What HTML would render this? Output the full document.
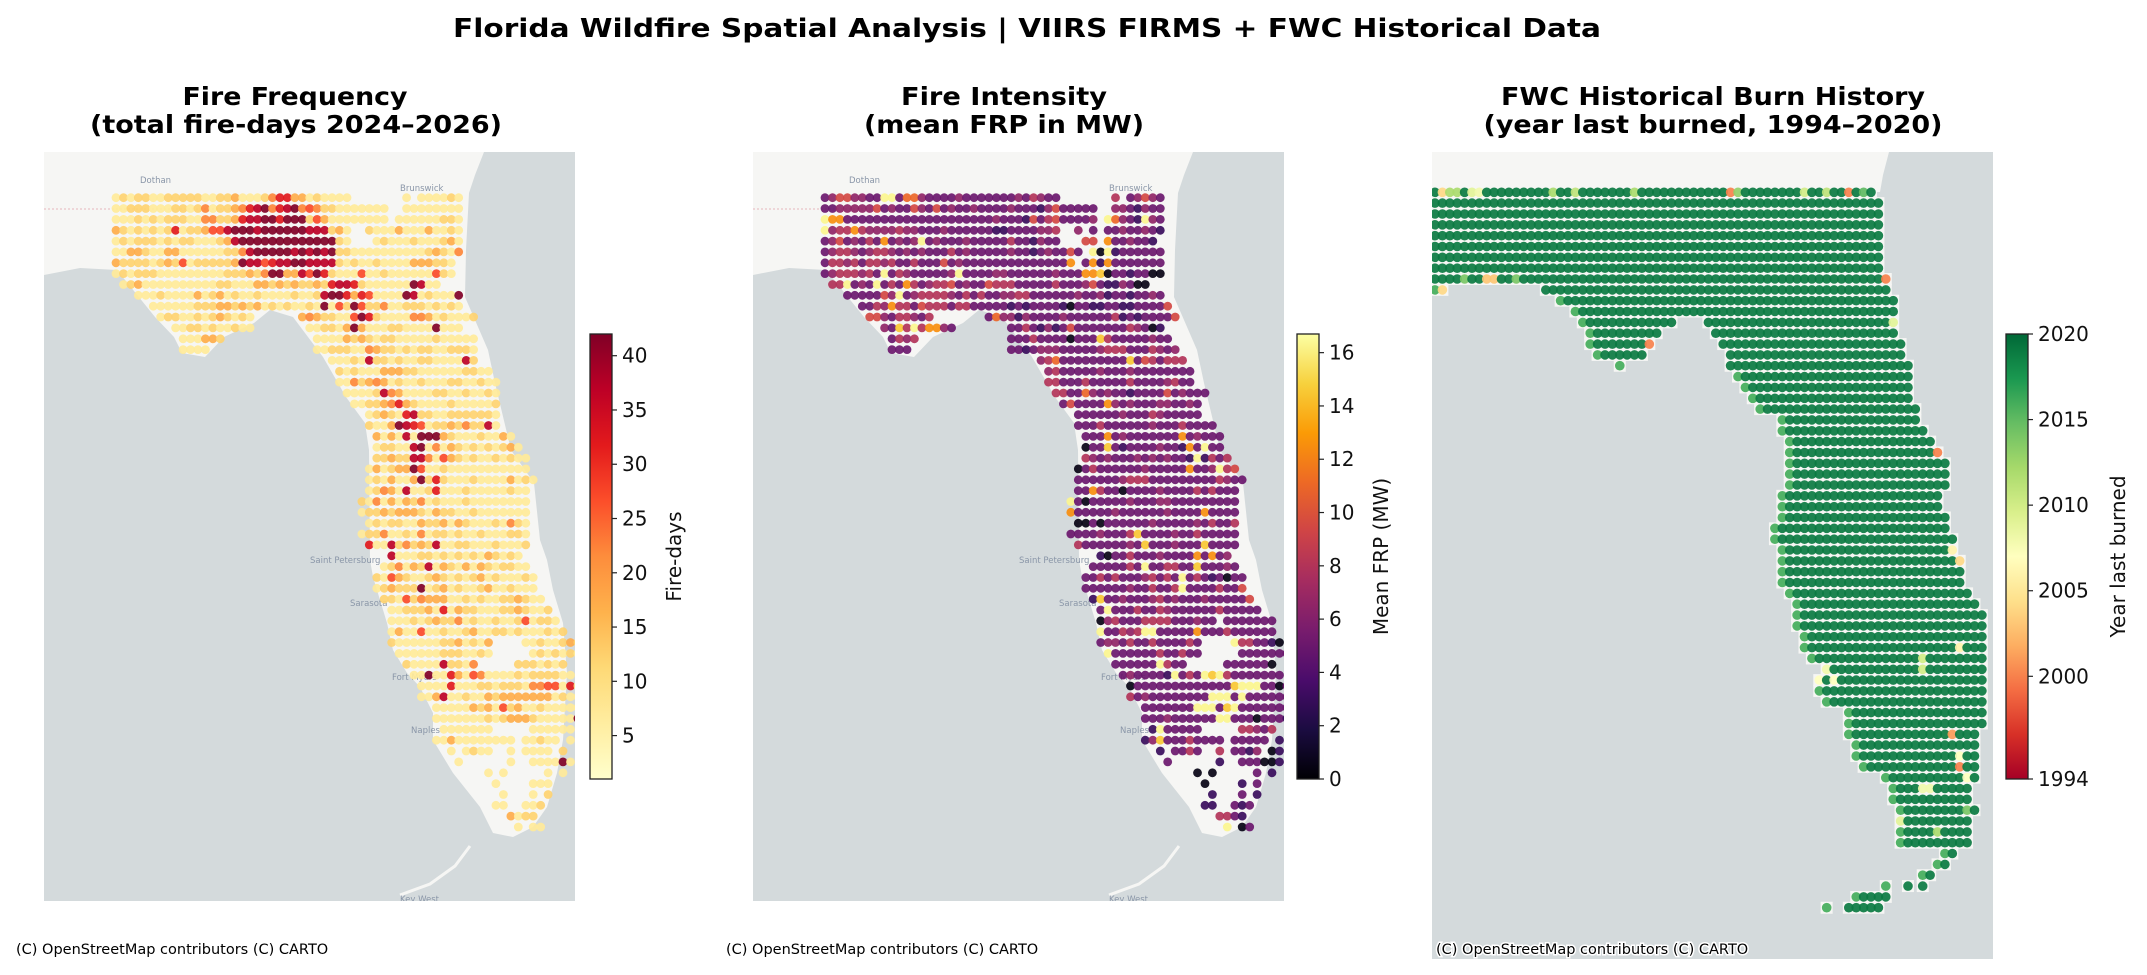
<!DOCTYPE html>
<html><head><meta charset="utf-8"><title>Florida Wildfire Spatial Analysis</title>
<style>
html,body{margin:0;padding:0;background:#fff;}
svg{display:block;font-family:"DejaVu Sans","Liberation Sans",sans-serif;}
</style></head>
<body>
<svg id="fig" width="2147" height="975" viewBox="0 0 2147 975" xmlns="http://www.w3.org/2000/svg">
<defs>
<linearGradient id="gYlOrRd" x1="0" y1="1" x2="0" y2="0"></linearGradient>
<linearGradient id="gInferno" x1="0" y1="1" x2="0" y2="0"></linearGradient>
<linearGradient id="gRdYlGn" x1="0" y1="1" x2="0" y2="0"></linearGradient>
<clipPath id="c1"><rect x="44" y="152" width="531" height="749"/></clipPath>
<clipPath id="c2"><rect x="753" y="152" width="531" height="749"/></clipPath>
<clipPath id="c3"><rect x="1432" y="152" width="561" height="807"/></clipPath>
</defs>
<text x="1027" y="37" text-anchor="middle" font-size="26" font-weight="bold" textLength="1148" lengthAdjust="spacingAndGlyphs">Florida Wildfire Spatial Analysis  |  VIIRS FIRMS + FWC Historical Data</text>

<text x="295" y="105" text-anchor="middle" font-size="25" font-weight="bold" textLength="225" lengthAdjust="spacingAndGlyphs">Fire Frequency</text>
<text x="296" y="133" text-anchor="middle" font-size="25" font-weight="bold" textLength="412" lengthAdjust="spacingAndGlyphs">(total fire-days 2024–2026)</text>
<text x="1004" y="105" text-anchor="middle" font-size="25" font-weight="bold" textLength="206" lengthAdjust="spacingAndGlyphs">Fire Intensity</text>
<text x="1004" y="133" text-anchor="middle" font-size="25" font-weight="bold" textLength="280" lengthAdjust="spacingAndGlyphs">(mean FRP in MW)</text>
<text x="1713" y="105" text-anchor="middle" font-size="25" font-weight="bold" textLength="424" lengthAdjust="spacingAndGlyphs">FWC Historical Burn History</text>
<text x="1713" y="133" text-anchor="middle" font-size="25" font-weight="bold" textLength="459" lengthAdjust="spacingAndGlyphs">(year last burned, 1994–2020)</text>

<g id="p1" clip-path="url(#c1)"></g>
<g id="p2" clip-path="url(#c2)"></g>
<g id="p3" clip-path="url(#c3)"></g>
<g id="cbars"></g>

<text x="16" y="954" font-size="14.5">(C) OpenStreetMap contributors (C) CARTO</text>
<text x="726" y="954" font-size="14.5">(C) OpenStreetMap contributors (C) CARTO</text>
<text x="1436" y="954" font-size="14.5" stroke="#fff" stroke-width="3" paint-order="stroke">(C) OpenStreetMap contributors (C) CARTO</text>
</svg>
<script>
// ---------- data ----------
const fireDayLevels = [3,7,12,17,22,27,32,37,42];
const freqRows = [
[0,"12122112222211223111246633121111.......1.111121"],
[0,"1122211122124122346784678454221111111..11111111"],
[0,"1112121222114422367788688825311111111.111111221"],
[0,"32121212612235578887888888777231..2111311131121"],
[0,"12122212122111237888888888888821...121112111231"],
[0,"11332113311111122478888878787822111111111123214"],
[0,"3222212325122222387756778877772121121111333221"],
[0,"1212221111111112223248833758621115112111111521"],
[1,"1231111111111221113323232232677621111118711"],
[3,"11121111312312112111121127886365111187121118"],
[5,"111111222332323121211218152852241122212121"],
[6,"1221121232121......343221158621111443121112"],
[8,"11221211211.......112213831112211118111"],
[9,"111332............1111323212211111211111"],
[9,"1111..............1122211432212122112221"],
[29,"11121722121122111172"],
[30,"212111333221111112211"],
[30,"1142343121121112211211"],
[31,"111127431111221121121"],
[32,"11223463211112111112"],
[34,"123216722112222221"],
[34,"211387651223242271"],
[35,"3131718883211121131"],
[35,"12211781413212121231"],
[35,"223227741532121121211"],
[34,"1312338511211111111111"],
[34,"12131138262111211113121"],
[34,"1243171126111211111211"],
[33,"21413132412111211111111"],
[33,"12232333213221121111111"],
[34,"1212211322313211121421"],
[33,"12241121412212112111221"],
[34,"6117242327112211121112"],
[37,"711122121212132121"],
[36,"12413271321313212211"],
[35,"2153211232121231211121"],
[35,"1232228123121123112111"],
[36,"2215243331121211223211"],
[37,"1122231613221112232112"],
[37,"11121232241211211251221"],
[37,"131151121123112212111212"],
[37,"21111112231213....11211232"],
[38,"1111112221121.....1212121"],
[39,"2111172214.....2221212"],
[40,"1181163154111121222211"],
[41,"1111611122122214455161"],
[41,"1137112113233333331211"],
[43,"11111323152311211111"],
[43,"11111112123332111118"],
[44,"1111111.....111111"],
[43,"11311111111.11211.1"],
[45,"1.1211..1.1111.2"],
[46,"1......1..111181"],
[49,".1.1.....1.1"],
[51,"1....111"],
[52,"1...1.2"],
[51,"11..112"],
[53,"3122"],
[54,"1.11"]
];
const frpLevels = [0.5,3,5,6.5,8,9.5,11,12.5,14.5,16.3];
const frpRows = [
[0,"23553322992663222232222222324322.......4.23532"],
[0,"2233333523225325232232222322213522222..3321322"],
[0,"9772222222222222222222232221524522223.96321932"],
[0,"93447433334332223222222112222334..3.2.22322321"],
[0,"23523242723239232223222224221322...55.7223221"],
[0,"23443234432323222423222223221232252.9091222222"],
[0,"2443424434224222523222222222222227.27172222222"],
[0,"2344434292432222239222233222222322277802212200"],
[1,"4492329242742344523225444222224222352113200"],
[3,"2222253923444432424223344222222322312212232"],
[5,"224374425444244222221212222102211221122225"],
[6,"553244324.......26331322223222222412122225"],
[8,"3284947732.......224213125222222243201"],
[9,"2434............2224222202228422222322"],
[9,"222.............22123332222234442224323"],
[29,"34622222222282542444"],
[30,"34222223222322222222"],
[30,"44222422222422223422"],
[31,"442263232212222523222"],
[32,"2522227323222332232"],
[34,"22222232224322222"],
[34,"2224222222322242222"],
[35,"2227232222222723222"],
[35,"0228212222322172922"],
[35,"43232223232322191424"],
[34,"0242222223222227223945"],
[34,"22222234442222222224322"],
[34,"2274220222232222424222"],
[33,"92022222322233222222222"],
[33,"72222232222223222272222"],
[34,"0020222222322222324224"],
[33,"22223222482222322422222"],
[34,"4222222328222322282222"],
[37,"102242223222272723"],
[36,"22222429224422822232"],
[35,"2242422234242924212022"],
[35,"2222223224224922224225"],
[36,"1822322234232223222225"],
[37,"2922242243222222422222"],
[37,"0342224444222322.2222222"],
[37,"922434992222272224222222"],
[37,"23324224222242....9442210"],
[38,"9222222422422.....2222222"],
[39,"2222229422.....2222220"],
[40,"2322221924298942222222"],
[41,"0222222222222289992202"],
[41,"4232222222299929222222"],
[43,"22222229992892222222"],
[43,"22232222229922202221"],
[44,"1922222.....44324"],
[43,"13822242222.22222.1"],
[45,"1.2242..4.2213.01"],
[46,"2......1..222001"],
[49,".0.0.....2.1"],
[51,"0....1.2"],
[52,"1...2.1"],
[51,"11..212"],
[53,"4421"],
[54,"9.02"]
];
const burnSegments = [
[[0,59]],[[0,60]],[[0,60]],[[0,60]],[[0,60]],[[0,60]],[[0,60]],[[0,60]],[[0,61]],
[[0,1],[15,61]],[[17,62]],[[19,62]],[[20,32],[37,62]],[[21,30],[38,62]],[[21,29],[39,63]],
[[22,28],[40,63]],[[25,25],[40,64]],[[41,64]],[[42,64]],[[43,64]],[[44,65]],[[47,65]],[[47,66]],
[[48,67]],[[48,68]],[[48,69]],[[48,69]],[[48,69]],[[47,68]],[[47,68]],[[47,69]],[[46,69]],[[46,70]],
[[47,70]],[[47,71]],[[47,71]],[[47,71]],[[48,72]],[[49,73]],[[49,74]],[[49,74]],[[50,74]],[[50,74]],
[[51,74]],[[53,74]],[[52,74]],[[52,74]],[[53,74]],[[56,74]],[[56,74]],[[56,73]],[[57,73]],[[57,73]],
[[58,73]],[[61,73]],[[62,72]],[[62,72]],[[63,73]],[[63,72]],[[63,72]],[[63,72]],[[69,70]],[[68,69]],
[[66,67]],[[61,61],[64,64],[66,66]],[[57,60],[61,61]],[[53,53],[56,60]]
];
const burnDefaultYear = 2019;
const burnEdgeYear = 2016;
const burnExceptions = [
[0,1,2004],[0,2,2012],[0,3,2012],[0,5,2009],[0,6,2008],[0,16,2012],[0,19,2011],[0,27,2012],[0,40,2000],[0,41,2013],[0,50,2010],[0,53,2011],[0,56,2000],[0,58,2015],
[8,4,2014],[8,7,2003],[8,8,2003],[8,11,2014],[8,61,2000],[9,1,2004],[12,62,2009],[14,29,2000],
[12,33,2015],[12,34,2015],[24,68,2000],[33,70,2006],[34,71,2004],[42,71,2006],[44,53,2008],[45,52,2007],
[45,54,2007],[43,66,2010],[44,66,2010],[50,70,2001],[52,71,2007],[53,71,2000],[54,72,2007],
[55,66,2008],[55,67,2008],[58,63,2009],[57,72,2014],[59,68,2012],[41,75,2010]
];
const freqTicks = [5,10,15,20,25,30,35,40];
const frpTicks = [0,2,4,6,8,10,12,14,16];
const yearTicks = [1994,2000,2005,2010,2015,2020];
const freqRange = [1,42], frpRange = [0,16.7], yearRange = [1994,2020];

// ---------- colormaps ----------
const CM = {
 YlOrRd:["#ffffcc","#ffeda0","#fed976","#feb24c","#fd8d3c","#fc4e2a","#e31a1c","#bd0026","#800026"],
 inferno:["#000004","#1b0c41","#4a0c6b","#781c6d","#a52c60","#cf4446","#ed6925","#fb9b06","#f7d13d","#fcffa4"],
 RdYlGn:["#a50026","#d73027","#f46d43","#fdae61","#fee08b","#ffffbf","#d9ef8b","#a6d96a","#66bd63","#1a9850","#006837"]
};
function hx(h){return [1,3,5].map(i=>parseInt(h.substr(i,2),16));}
function cmap(name,t){const s=CM[name];t=Math.max(0,Math.min(1,t));const p=t*(s.length-1);const i=Math.min(s.length-2,Math.floor(p));const f=p-i;const a=hx(s[i]),b=hx(s[i+1]);return "rgb("+a.map((v,k)=>Math.round(v+(b[k]-v)*f)).join(",")+")";}
const NS="http://www.w3.org/2000/svg";
function mk(tag,attrs,parent){const e=document.createElementNS(NS,tag);for(const k in attrs)e.setAttribute(k,attrs[k]);parent.appendChild(e);return e;}

// ---------- axes ----------
const g12 = {x0:116, dx:7.45, y0:197.7, dy:10.85};
const g3 = {x0:1435, dx:7.39, y0:192.3, dy:10.84};
function colX(g,c){return g.x0+c*g.dx;}
function rowY(g,r){return g.y0+r*g.dy;}

const landPoly = [[44,152],[484,152],[475,175],[469,193],[466,250],[465,297],[475,320],[488,350],[495,383],[511,450],[534,483],[540,540],[547,560],[553,590],[563,623],[567,673],[563,740],[557,773],[547,807],[533,827],[513,837],[493,833],[480,807],[453,773],[433,740],[433,713],[420,687],[407,673],[393,650],[387,623],[380,600],[373,577],[370,560],[369,450],[365,423],[346,397],[338,383],[323,357],[308,337],[293,317],[270,310],[254,323],[224,337],[205,357],[182,353],[174,337],[155,317],[117,270],[80,268],[44,275]];

function basemap(g,off,name){
 const bg=mk('rect',{x:44+off,y:152,width:531,height:749,fill:"#d4dadc"},g);
 
 
 const land=mk('polygon',{points:landPoly.map(p=>(p[0]+off)+","+p[1]).join(" "),fill:"#f6f6f4"},g);
 
 
 const keys=mk('polyline',{points:[[470,846],[455,866],[430,884],[400,895]].map(p=>(p[0]+off)+","+p[1]).join(" "),fill:"none",stroke:"#f6f6f4","stroke-width":3},g);
 
 
 mk('line',{x1:44+off,y1:209,x2:330+off,y2:209,stroke:"#e7b7bd","stroke-width":1,"stroke-dasharray":"2,2"},g);
 [["Dothan",140,183],["Brunswick",400,191],["Saint Petersburg",310,563],["Sarasota",350,606],["Fort Myers",392,680],["Naples",411,733],["Key West",400,902]].forEach(c=>{
  const t=mk('text',{x:c[1]+off,y:c[2],"font-size":8.5,fill:"#8a96a8"},g);t.textContent=c[0];
  
  
 });
}

function drawGrid(g,off,rows,levels,cm,range,name){
 rows.forEach((row,r)=>{
  const start=row[0],s=row[1];
  for(let i=0;i<s.length;i++){
   const ch=s[i]; if(ch==='.'||ch===' ')continue;
   const v=levels[+ch];
   const c=mk('circle',{cx:(colX(g12,start+i)+off).toFixed(1),cy:rowY(g12,r).toFixed(1),r:4.4,fill:cmap(cm,(v-range[0])/(range[1]-range[0])),"fill-opacity":0.92},g);
   
   
  }
 });
}

const p1=document.getElementById('p1'),p2=document.getElementById('p2'),p3=document.getElementById('p3');
basemap(p1,0,'frequency');
drawGrid(p1,0,freqRows,fireDayLevels,'YlOrRd',freqRange,'fire-frequency-cell');
basemap(p2,709,'intensity');
drawGrid(p2,709,frpRows,frpLevels,'inferno',frpRange,'fire-intensity-cell');

(function(){
 const bg=mk('rect',{x:1432,y:152,width:561,height:807,fill:"#d4dadc"},p3);
 
 
 const top=mk('polygon',{points:"1432,152 1889,152 1883,175 1880,192 1432,192",fill:"#f6f6f4"},p3);
 
 
 const exc={};burnExceptions.forEach(e=>exc[e[0]+"_"+e[1]]=e[2]);
 burnSegments.forEach((segs,r)=>{
  segs.forEach(sg=>{
   const l=mk('rect',{x:colX(g3,sg[0])-6,y:rowY(g3,r)-6,width:(sg[1]-sg[0])*g3.dx+12,height:12,fill:"#f6f6f4"},p3);
   
   
  });
 });
 burnSegments.forEach((segs,r)=>{
  segs.forEach((sg,si)=>{
   for(let c=sg[0];c<=sg[1];c++){
    let y=burnDefaultYear;
    if(si===0&&c===sg[0]&&r>8)y=burnEdgeYear;
    if(exc[r+"_"+c]!==undefined)y=exc[r+"_"+c];
    const d=mk('circle',{cx:colX(g3,c).toFixed(1),cy:rowY(g3,r).toFixed(1),r:4.8,fill:cmap('RdYlGn',(y-yearRange[0])/(yearRange[1]-yearRange[0])),"fill-opacity":0.92},p3);
    
    
   }
  });
 });
})();

const cb=document.getElementById('cbars');
function gradient(id,name){const gr=document.getElementById(id);const s=CM[name];s.forEach((c,i)=>mk('stop',{offset:(i/(s.length-1)),"stop-color":c},gr));}
gradient('gYlOrRd','YlOrRd');gradient('gInferno','inferno');gradient('gRdYlGn','RdYlGn');
function colorbar(x,grad,ticks,range,label,name,loff){
 const y0=334,y1=779,w=22;
 const r=mk('rect',{x:x,y:y0,width:w,height:y1-y0,fill:"url(#"+grad+")",stroke:"#222","stroke-width":1.3},cb);
 
 
 ticks.forEach(t=>{
  const y=y1-(t-range[0])/(range[1]-range[0])*(y1-y0);
  mk('line',{x1:x+w,y1:y,x2:x+w+5,y2:y,stroke:"#222","stroke-width":1.2},cb);
  const tx=mk('text',{x:x+w+10,y:y+7,"font-size":20,fill:"#111"},cb);tx.textContent=t;
  
  
 });
 const lx=x+loff,ly=(y0+y1)/2;
 const lb=mk('text',{x:lx,y:ly,"font-size":20,fill:"#111","text-anchor":"middle",transform:"rotate(-90 "+lx+" "+ly+")"},cb);lb.textContent=label;
 
 
}
colorbar(590,'gYlOrRd',freqTicks,freqRange,'Fire-days','fire-days-colorbar',91);
colorbar(1297,'gInferno',frpTicks,frpRange,'Mean FRP (MW)','frp-colorbar',91);
colorbar(2006,'gRdYlGn',yearTicks,yearRange,'Year last burned','year-colorbar',119);
</script>
</body></html>
